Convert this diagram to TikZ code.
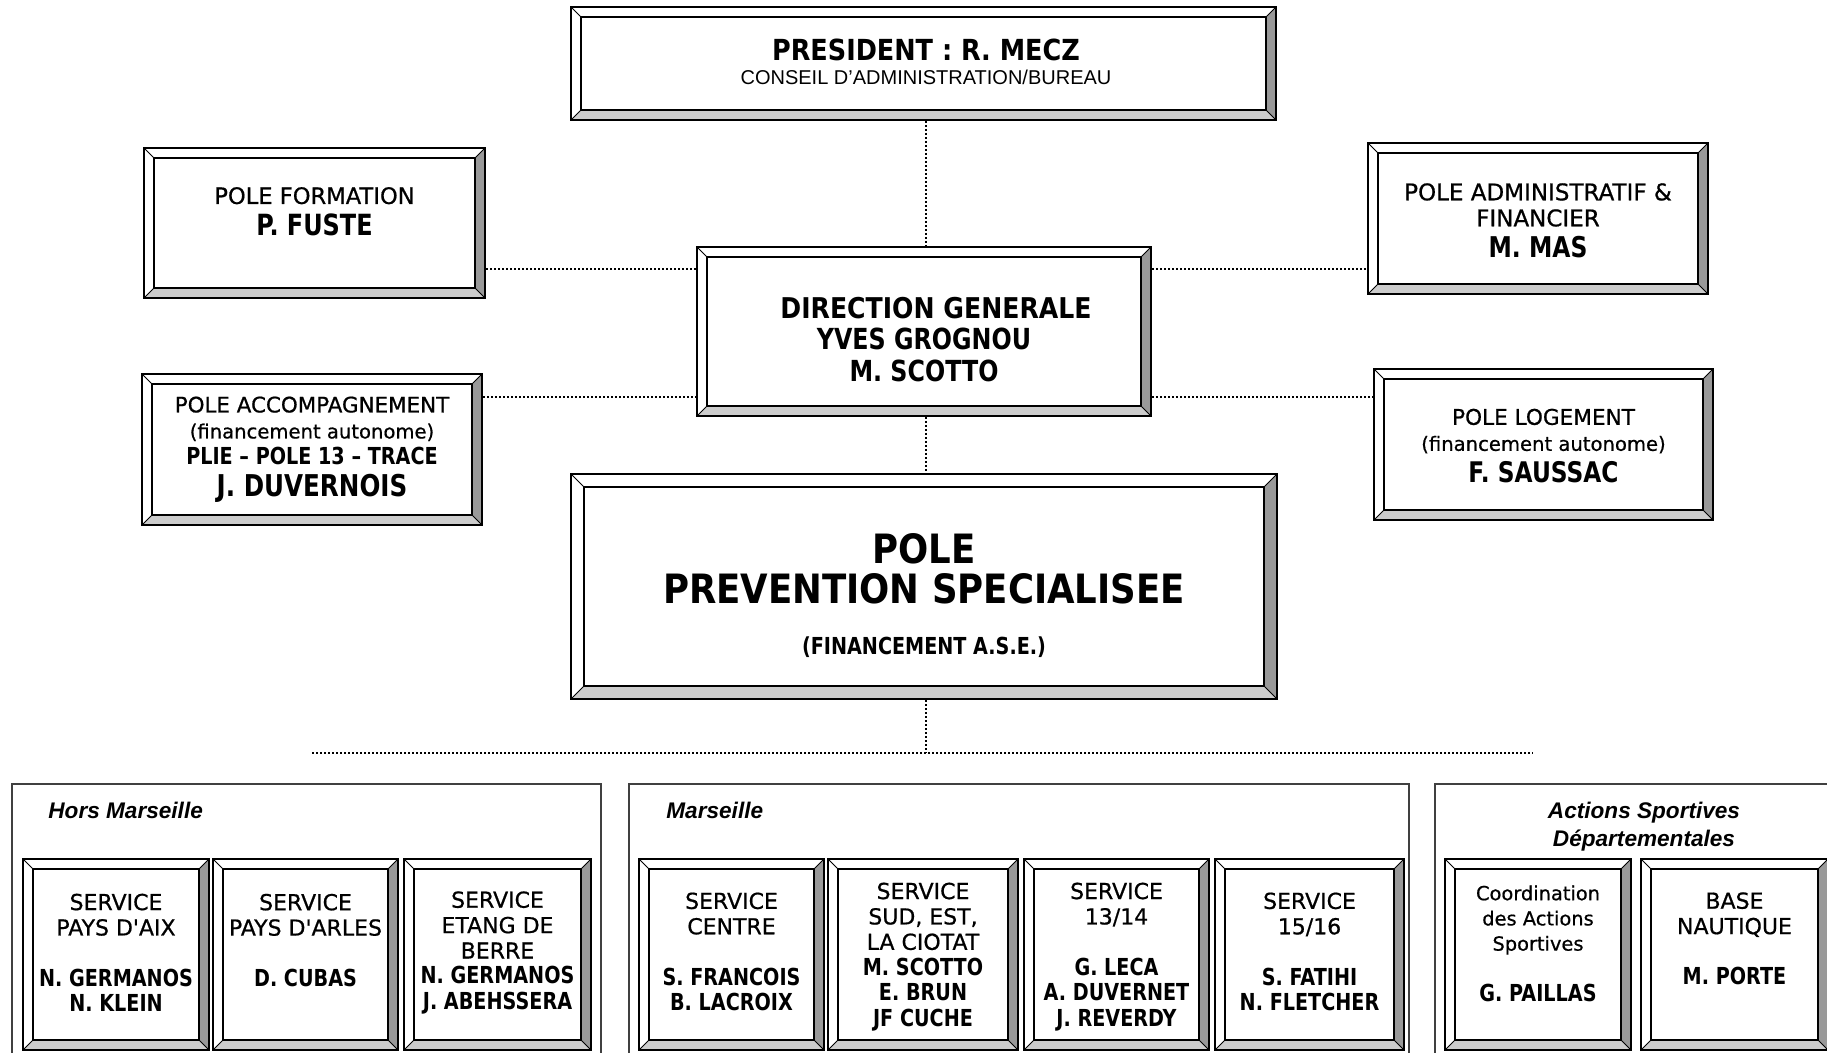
\documentclass[tikz,border=0pt]{standalone}
\usepackage{fontspec}
\setmainfont{DejaVu Sans}
\newfontfamily\CRf{DejaVu Sans}[FakeBold=0.7]
\newfontfamily\CBf{DejaVu Sans}[FakeStretch=0.88]
\newfontfamily\NMf{DejaVu Sans}[FakeStretch=0.82]
\newfontfamily\ARf{Liberation Sans}
\newcommand\Sz[1]{\fontsize{#1}{#1}\selectfont}
\newcommand\Lsk[1]{\fontsize{10}{#1}\selectfont}
\newcommand\LnC[1]{{\CRf\Sz{11}#1}}
\newcommand\LnN[1]{{\NMf\bfseries\Sz{11.7}#1}}
\newcommand\bevw{5pt}
\definecolor{bevR}{gray}{0.6}
\definecolor{bevB}{gray}{0.8}
\tikzset{
  bevel/.style={rectangle, draw=black, line width=1pt, fill=white, inner sep=0pt,
    path picture={
      \coordinate (bSW) at (path picture bounding box.south west);
      \coordinate (bNE) at (path picture bounding box.north east);
      \coordinate (bNW) at (path picture bounding box.north west);
      \coordinate (bSE) at (path picture bounding box.south east);
      \coordinate (iSW) at ([shift={(\bevw,\bevw)}]bSW);
      \coordinate (iNE) at ([shift={(-\bevw,-\bevw)}]bNE);
      \coordinate (iNW) at ([shift={(\bevw,-\bevw)}]bNW);
      \coordinate (iSE) at ([shift={(-\bevw,\bevw)}]bSE);
      \fill[bevR] (bNE) -- (bSE) -- (iSE) -- (iNE) -- cycle;
      \fill[bevB] (bSW) -- (bSE) -- (iSE) -- (iSW) -- cycle;
      \draw[black, line width=0.8pt] (iSW) rectangle (iNE);
      \draw[black, line width=0.5pt] (bSW) -- (iSW) (bNW) -- (iNW) (bNE) -- (iNE) (bSE) -- (iSE);
    }},
  widebevel/.style={/utils/exec={\renewcommand\bevw{6.5pt}}},
  txt/.style={align=center, inner sep=0pt, outer sep=0pt},
  conn/.style={black, line width=1pt, dash pattern=on 1pt off 1pt},
  frame/.style={draw=black!75, line width=0.6pt}
}
\begin{document}
\begin{tikzpicture}[x=0.5pt, y=-0.5pt]
\clip (0,0) rectangle (1827,1053);
\fill[white] (0,0) rectangle (1827,1053);

% ---- upper boxes ----
\node[bevel, minimum width=352.5pt, minimum height=56.5pt] (pres) at (923.5,63.5) {};
\node[bevel, minimum width=170.5pt, minimum height=75pt] (form) at (314.5,223) {};
\node[bevel, minimum width=227pt, minimum height=84.5pt] (dg) at (924,331.5) {};
\node[bevel, minimum width=170pt, minimum height=75.5pt] (admin) at (1538,218.5) {};
\node[bevel, minimum width=170pt, minimum height=75.5pt] (accomp) at (312,449.5) {};
\node[bevel, minimum width=169.5pt, minimum height=75.5pt] (loge) at (1543.5,444.5) {};
\node[widebevel, bevel, minimum width=353pt, minimum height=112.5pt] (prev) at (924,586.5) {};

\node[txt, font=\Lsk{11.75}] (presT) at (926,62)
  {{\CBf\bfseries\Sz{14.5}PRESIDENT : R. MECZ}\\{\ARf\Sz{10}CONSEIL D’ADMINISTRATION/BUREAU}};
\node[txt, font=\Lsk{15.75}] (formT) at (314.5,211.5)
  {{\CRf\Sz{11.3}POLE FORMATION}\\{\NMf\bfseries\Sz{14.6}P. FUSTE}};
\node[txt, font=\Lsk{15.75}] (dgT) at (924,339.5)
  {{\CBf\bfseries\Sz{14.3}\hspace*{12pt}DIRECTION GENERALE}\\{\NMf\bfseries\Sz{14.5}YVES GROGNOU}\\{\NMf\bfseries\Sz{14.5}M. SCOTTO}};
\node[txt, font=\Lsk{13}] (adminT) at (1538,220.5)
  {{\CRf\Sz{11.5}POLE ADMINISTRATIF \&}\\{\CRf\Sz{11.5}FINANCIER}\\[2.5pt]{\NMf\bfseries\Sz{14.3}M. MAS}};
\node[txt, font=\Lsk{13}] (accompT) at (312,449.5)
  {{\CRf\Sz{10.7}POLE ACCOMPAGNEMENT}\\{\CRf\Sz{9.8}(financement autonome)}\\{\NMf\bfseries\Sz{11.7}PLIE – POLE 13 – TRACE}\\[3pt]{\NMf\bfseries\Sz{15}J. DUVERNOIS}};
\node[txt, font=\Lsk{13}] (logeT) at (1543.5,445.7)
  {{\CRf\Sz{10.8}POLE LOGEMENT}\\{\CRf\Sz{9.8}(financement autonome)}\\[2.7pt]{\NMf\bfseries\Sz{14.2}F. SAUSSAC}};
\node[txt, font=\Lsk{20}] (prevT) at (924,595.2)
  {{\CBf\bfseries\Sz{20.2}POLE}\\{\CBf\bfseries\Sz{20.2}PREVENTION SPECIALISEE}\\[5.65pt]{\NMf\bfseries\Sz{11.7}(FINANCEMENT A.S.E.)}};

% ---- connectors ----
\coordinate (vx) at (926,0);
\coordinate (yUp) at (0,269);
\coordinate (yLo) at (0,397);
\coordinate (hL) at (312,753);
\coordinate (hR) at (1533,753);
\draw[conn] (pres.south -| vx) -- (dg.north -| vx);
\draw[conn] (dg.south -| vx) -- (prev.north -| vx);
\draw[conn] (prev.south -| vx) -- (hL -| vx);
\draw[conn] (hL) -- (hR);
\draw[conn] (form.east |- yUp) -- (dg.west |- yUp);
\draw[conn] (dg.east |- yUp) -- (admin.west |- yUp);
\draw[conn] (accomp.east |- yLo) -- (dg.west |- yLo);
\draw[conn] (dg.east |- yLo) -- (loge.west |- yLo);

% ---- frames ----
\draw[frame] (12,784) rectangle (601,1080);
\draw[frame] (629,784) rectangle (1409,1080);
\draw[frame] (1435,784) rectangle (1860,1080);
\node[anchor=base west, inner sep=0pt] (hmL) at (48,818) {\ARf\bfseries\itshape\Sz{11.3}Hors Marseille};
\node[anchor=base west, inner sep=0pt] (mL) at (666,818) {\ARf\bfseries\itshape\Sz{11.3}Marseille};
\node[txt, font=\Lsk{14}] (asL) at (1644,826.4)
  {{\ARf\bfseries\itshape\Sz{11.3}Actions Sportives}\\{\ARf\bfseries\itshape\Sz{11.3}Départementales}};

% ---- bottom boxes ----
\node[bevel, minimum width=93pt, minimum height=95.5pt] (hm1) at (116,954.5) {};
\node[bevel, minimum width=92.5pt, minimum height=95.5pt] (hm2) at (305.5,954.5) {};
\node[bevel, minimum width=93.5pt, minimum height=95.5pt] (hm3) at (497.5,954.5) {};
\node[bevel, minimum width=92.5pt, minimum height=95.5pt] (m1) at (731.5,954.5) {};
\node[bevel, minimum width=95pt, minimum height=95.5pt] (m2) at (923,954.5) {};
\node[bevel, minimum width=92.5pt, minimum height=95.5pt] (m3) at (1116.5,954.5) {};
\node[bevel, minimum width=94.5pt, minimum height=95.5pt] (m4) at (1309.5,954.5) {};
\node[bevel, minimum width=93pt, minimum height=95.5pt] (as1) at (1538,954.5) {};
\node[bevel, minimum width=93.5pt, minimum height=95.5pt] (as2) at (1734.5,954.5) {};

\node[txt, font=\Lsk{12.7}] (hm1T) at (116,952.7)
  {\LnC{SERVICE}\\\LnC{PAYS D'AIX}\\{}\\\LnN{N. GERMANOS}\\\LnN{N. KLEIN}};
\node[txt, font=\Lsk{12.7}] (hm2T) at (305.5,940.3)
  {\LnC{SERVICE}\\\LnC{PAYS D'ARLES}\\{}\\\LnN{D. CUBAS}};
\node[txt, font=\Lsk{12.7}] (hm3T) at (497.5,952.7)
  {\LnC{SERVICE}\\\LnC{ETANG DE}\\\LnC{BERRE}\\\LnN{N. GERMANOS}\\\LnN{J. ABEHSSERA}};
\node[txt, font=\Lsk{12.7}] (m1T) at (731.5,951.7)
  {\LnC{SERVICE}\\\LnC{CENTRE}\\{}\\\LnN{S. FRANCOIS}\\\LnN{B. LACROIX}};
\node[txt, font=\Lsk{12.7}] (m2T) at (923,956.7)
  {\LnC{SERVICE}\\\LnC{SUD, EST,}\\\LnC{LA CIOTAT}\\\LnN{M. SCOTTO}\\\LnN{E. BRUN}\\\LnN{JF CUCHE}};
\node[txt, font=\Lsk{12.7}] (m3T) at (1116.5,956.7)
  {\LnC{SERVICE}\\\LnC{13/14}\\{}\\\LnN{G. LECA}\\\LnN{A. DUVERNET}\\\LnN{J. REVERDY}};
\node[txt, font=\Lsk{12.7}] (m4T) at (1309.5,951.7)
  {\LnC{SERVICE}\\\LnC{15/16}\\{}\\\LnN{S. FATIHI}\\\LnN{N. FLETCHER}};
\node[txt, font=\Lsk{12.6}] (as1T) at (1538,943.4)
  {{\CRf\Sz{9.7}Coordination}\\{\CRf\Sz{9.7}des Actions}\\{\CRf\Sz{9.7}Sportives}\\{}\\\LnN{G. PAILLAS}};
\node[txt, font=\Lsk{12.7}] (as2T) at (1734.5,938.8)
  {\LnC{BASE}\\\LnC{NAUTIQUE}\\{}\\\LnN{M. PORTE}};
\end{tikzpicture}
\end{document}
